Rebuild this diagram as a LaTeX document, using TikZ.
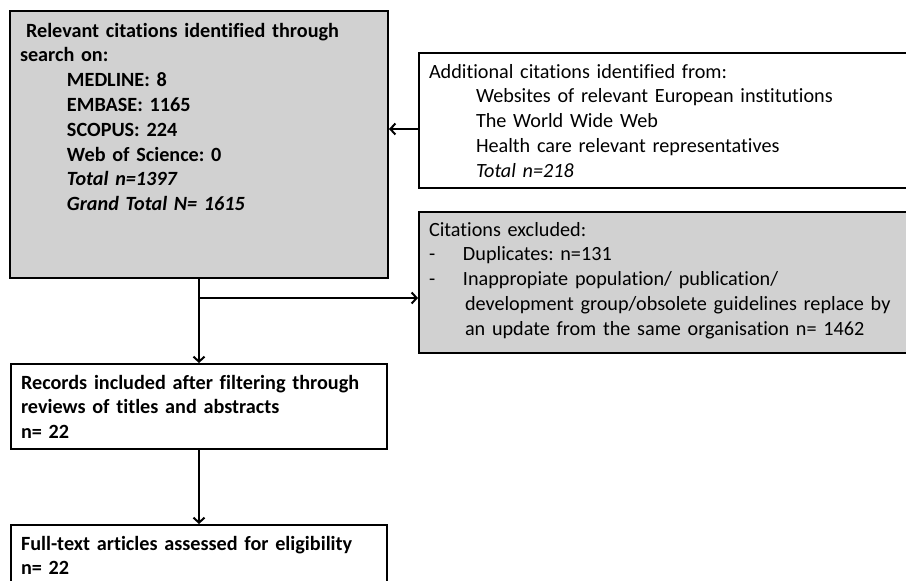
\documentclass[tikz,border=0pt]{standalone}
\usepackage{fontspec}
\setmainfont[Ligatures=NoCommon]{Carlito}
\usetikzlibrary{arrows.meta}

\begin{document}
\frenchspacing
\begin{tikzpicture}
  [x=1pt,y=-1pt,line cap=round,
   % Styles
   >={Straight Barb[length=5pt,width=11pt]},
   flow line/.style={draw,line width=2pt},
   flow box/.style={draw,line width=2pt,anchor=north west,align=left,
     inner xsep=10pt,inner ysep=0pt,font=\fontsize{20.2}{24.8}\selectfont},
   shaded box/.style={flow box,fill=boxgray}]

  % Colors
  \colorlet{boxgray}{black!18}

  % Page
  \useasboundingbox (0,0) rectangle (906,581);
  \clip (0,0) rectangle (906,581);

  % The boxes
  \node[shaded box,text width=358pt,text height=26pt,text depth=241pt]
    (search) at (9,10)
    {\bfseries\hspace*{6pt}Relevant citations identified through\\
     search on:\\
     \hspace*{47pt}MEDLINE: 8\\
     \hspace*{47pt}EMBASE: 1165\\
     \hspace*{47pt}SCOPUS: 224\\
     \hspace*{47pt}Web of Science: 0\\
     \hspace*{47pt}\itshape Total n=1397\\
     \hspace*{47pt}\itshape Grand Total N= 1615};

  \node[flow box,text width=480pt,text height=25pt,text depth=110pt]
    (extra) at (418,52)
    {Additional citations identified from:\\
     \hspace*{47pt}Websites of relevant European institutions\\
     \hspace*{47pt}The World Wide Web\\
     \hspace*{47pt}Health care relevant representatives\\
     \hspace*{47pt}\textit{Total n=218}};

  \node[shaded box,text width=480pt,text height=24pt,text depth=117pt]
    (excluded) at (418,211)
    {Citations excluded:\\
     \makebox[34pt][l]{-}Duplicates: n=131\\
     \makebox[34pt][l]{-}Inappropiate population/ publication/\\
     \hspace*{36pt}development group/obsolete guidelines replace by\\
     \hspace*{36pt}an update from the same organisation n= 1462};

  \node[flow box,text width=356pt,text height=25pt,text depth=60pt]
    (records) at (10,363)
    {\bfseries Records included after filtering through\\
     reviews of titles and abstracts\\
     n= 22};

  \node[flow box,text width=356pt,text height=25pt,text depth=70pt]
    (fulltext) at (10,524)
    {\bfseries Full-text articles assessed for eligibility\\
     n= 22};

  % The connectors
  \coordinate (merge) at ([yshift=-8.5pt]extra.west);
  \coordinate (fork) at ([yshift=-19pt]search.south);

  \path[flow line,->] (merge) -- (merge -| search.east);
  \path[flow line] (search.south) -- (fork);
  \path[flow line,->] (fork) -- (fork -| excluded.west);
  \path[flow line,->] (fork) -- (fork |- records.north);
  \path[flow line,->] (records.south) -- (fulltext.north);
\end{tikzpicture}
\end{document}
